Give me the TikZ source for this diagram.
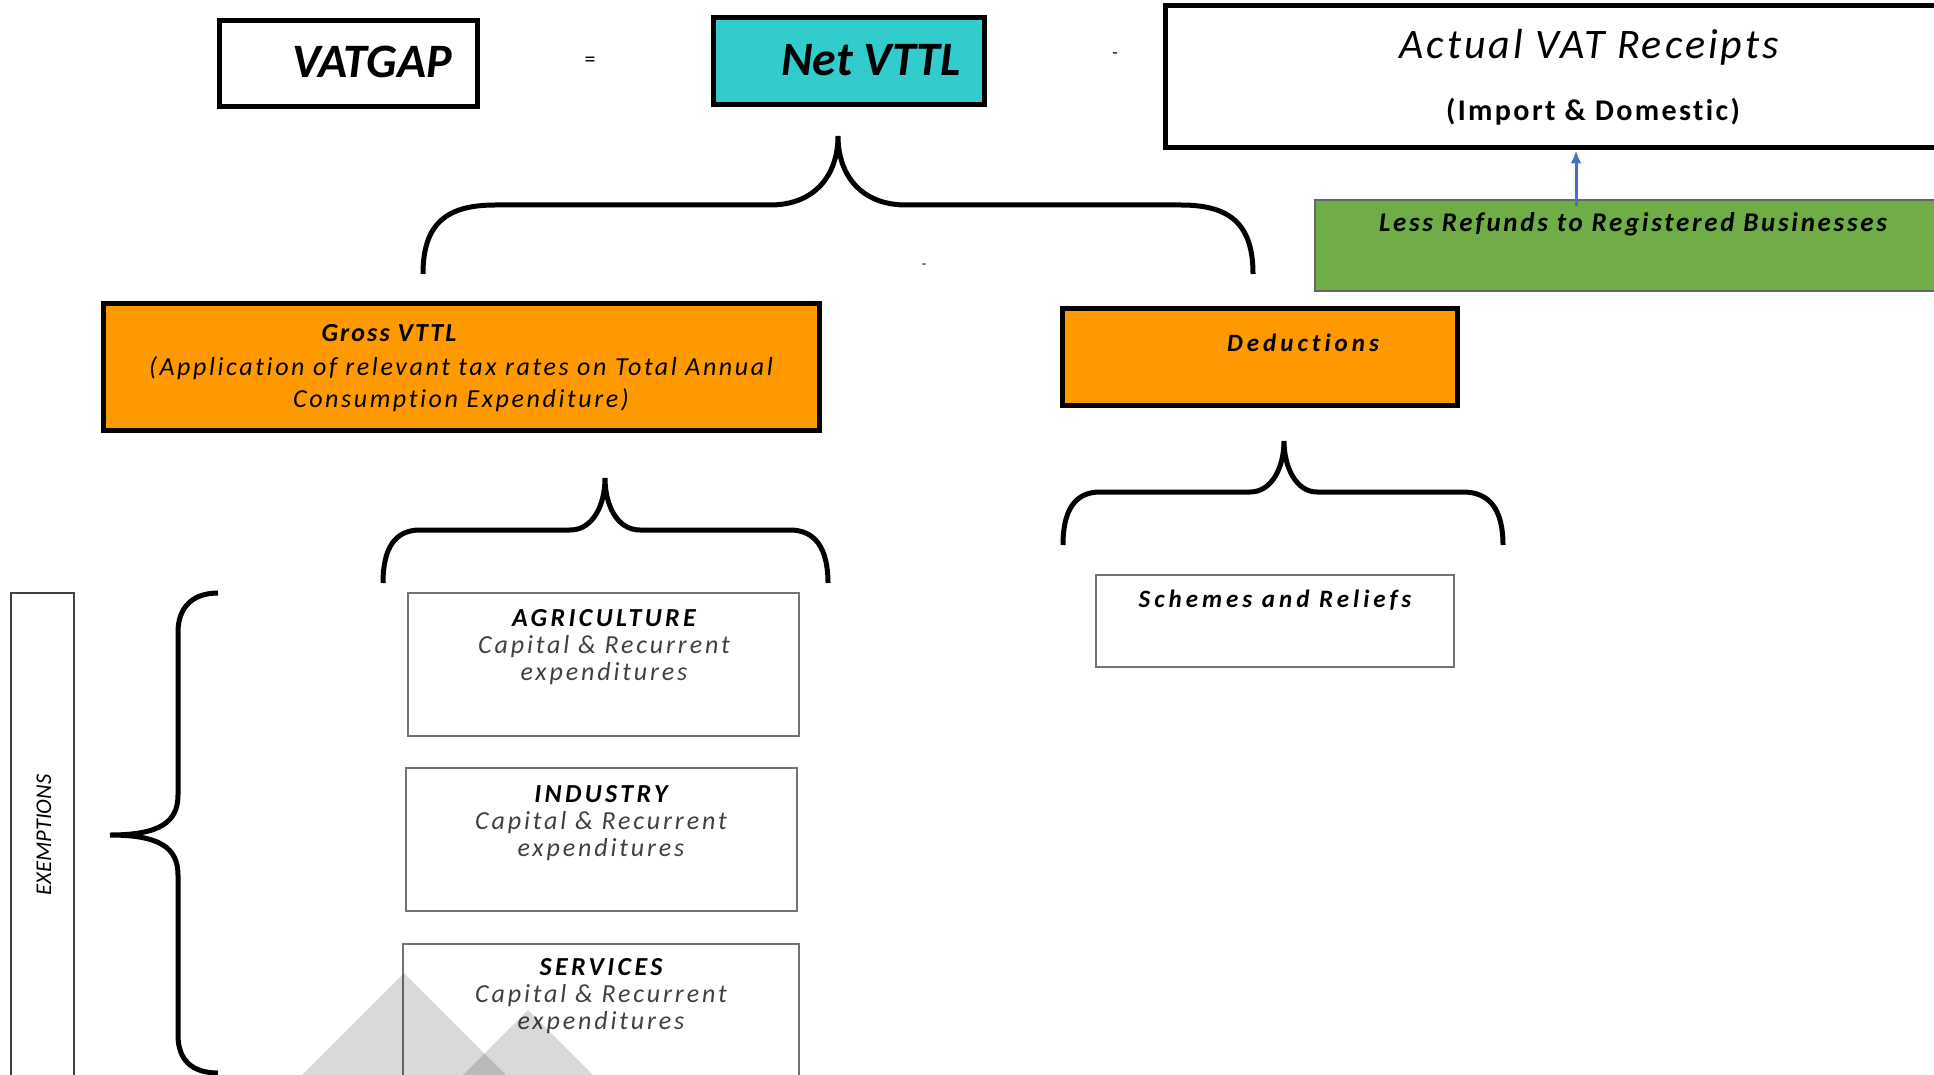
\documentclass[tikz,border=0pt]{standalone}
\usepackage{fontspec}
\setmainfont{Carlito}[Ligatures=NoCommon]
\usetikzlibrary{arrows.meta}

\definecolor{netcyan}{HTML}{33CCCC}
\definecolor{grossorange}{HTML}{FF9900}
\definecolor{refundgreen}{HTML}{70AD47}
\definecolor{arrowblue}{HTML}{4472C4}
\definecolor{subgrey}{HTML}{404040}

\newcommand{\trk}[1]{\addfontfeatures{LetterSpace=#1}}

\tikzset{
  heavybox/.style={draw=black, line width=5pt, inner sep=0pt},
  lightbox/.style={draw=black!55, line width=2pt, inner sep=0pt},
  brace/.style={line width=5pt},
  lbl/.style={inner sep=0pt, align=center}
}

\begin{document}
\begin{tikzpicture}[x=1pt,y=-1pt]
\useasboundingbox (0,0) rectangle (1934,1075);
\clip (0,0) rectangle (1934,1075);

% top row
\node[heavybox, minimum width=258, minimum height=86] (vatgap) at (348,64) {};
\node[heavybox, fill=netcyan, minimum width=271, minimum height=87] (netvttl) at (848.5,61.5) {};
\node[heavybox, minimum width=795, minimum height=142] (actual) at (1562.5,77) {};
\node[draw=black!60, line width=1.5pt, fill=refundgreen, minimum width=645, minimum height=91] (refunds) at (1637.5,245.5) {};

\node[lbl, font=\fontsize{48}{52}\selectfont\bfseries\itshape] (vatgaptxt) at (372,62) {VATGAP};
\node[lbl, font=\fontsize{22}{24}\selectfont] (eqsign) at (590,62) {=};
\node[lbl, font=\fontsize{48}{52}\selectfont\bfseries\itshape] (netvttltxt) at (871,60) {Net VTTL};
\node[lbl, font=\fontsize{18}{20}\selectfont] (minussign) at (1115,56) {-};
\node[lbl, font=\fontsize{42}{46}\selectfont\itshape\trk{7}] (actualtxt) at (1589,47) {Actual VAT Receipts};
\node[lbl, font=\fontsize{30}{34}\selectfont\bfseries\trk{8}] (importtxt) at (1593,112) {(Import \& Domestic)};
\node[lbl, font=\fontsize{27}{30}\selectfont\bfseries\itshape\trk{10}] (refundstxt) at (1633,224) {Less Refunds to Registered Businesses};

% refunds into receipts
\coordinate (arrowx) at (1576,0);
\draw[arrowblue, line width=3pt, -{Latex[length=13pt,width=11pt]}] ([yshift=-7pt]refunds.north -| arrowx) -- (actual.south -| arrowx);

% braces
\draw[brace] (423,274) .. controls (423,225) and (445,205) .. (495,205) -- (770,205)
  .. controls (815,205) and (838,175) .. (838,136) .. controls (838,175) and (861,205) .. (906,205)
  -- (1181,205) .. controls (1231,205) and (1253,225) .. (1253,274);
\node[lbl, font=\fontsize{14}{16}\selectfont] (smalldash) at (924,266) {-};

\draw[brace] (383,583) .. controls (383,548) and (395,530) .. (420,530) -- (570,530)
  .. controls (593,530) and (605,505) .. (605,478) .. controls (605,505) and (617,530) .. (640,530)
  -- (790,530) .. controls (815,530) and (828,548) .. (828,583);

\draw[brace] (1063,545) .. controls (1063,510) and (1075,492) .. (1100,492) -- (1250,492)
  .. controls (1272,492) and (1284,467) .. (1284,441) .. controls (1284,467) and (1296,492) .. (1317,492)
  -- (1463,492) .. controls (1490,492) and (1503,510) .. (1503,545);

\draw[brace] (218,593) .. controls (192,593) and (178,608) .. (178,632) -- (178,795)
  .. controls (178,822) and (160,835) .. (110,835) .. controls (160,835) and (178,848) .. (178,875)
  -- (178,1035) .. controls (178,1060) and (192,1073) .. (218,1073);

% middle row
\node[heavybox, fill=grossorange, minimum width=716, minimum height=127] (gross) at (461,366.5) {};
\node[heavybox, fill=grossorange, minimum width=395, minimum height=97] (deductions) at (1259.5,356.5) {};
\node[lbl, font=\fontsize{26}{30}\selectfont\bfseries\itshape\trk{8}] (grosstxt) at (389,333) {Gross VTTL};
\node[lbl, font=\fontsize{26}{30}\selectfont\itshape\trk{10}] (grossline1) at (461,368) {(Application of relevant tax rates on Total Annual};
\node[lbl, font=\fontsize{26}{30}\selectfont\itshape\trk{10}] (grossline2) at (461,400) {Consumption Expenditure)};
\node[lbl, font=\fontsize{25}{29}\selectfont\bfseries\itshape\trk{16}] (deductionstxt) at (1303,343) {Deductions};

% lower boxes
\node[lightbox, minimum width=358, minimum height=92] (schemes) at (1275,621) {};
\node[lbl, font=\fontsize{25}{29}\selectfont\bfseries\itshape\trk{16}] (schemestxt) at (1275,600) {Schemes and Reliefs};

\node[draw=subgrey, line width=2.5pt, minimum width=63, minimum height=507] (exemptions) at (42.5,846.5) {};
\node[lbl, rotate=90, font=\fontsize{22.5}{26}\selectfont\itshape] (exemptionstxt) at (44,835) {EXEMPTIONS};

\node[lightbox, minimum width=391, minimum height=143] (agri) at (603.5,664.5) {};
\node[lightbox, minimum width=391, minimum height=143] (industry) at (601.5,839.5) {};
\node[lightbox, minimum width=396, minimum height=160] (services) at (601,1024) {};

\node[lbl, font=\fontsize{26}{27}\selectfont\itshape\trk{11}] (agritxt) at (604,647)
  {{\bfseries\trk{13}AGRICULTURE}\\ \textcolor{subgrey}{Capital \& Recurrent}\\ \textcolor{subgrey}{expenditures}};
\node[lbl, font=\fontsize{26}{27}\selectfont\itshape\trk{11}] (industrytxt) at (601,823)
  {{\bfseries\trk{13}INDUSTRY}\\ \textcolor{subgrey}{Capital \& Recurrent}\\ \textcolor{subgrey}{expenditures}};
\node[lbl, font=\fontsize{26}{27}\selectfont\itshape\trk{11}] (servicestxt) at (601,996)
  {{\bfseries\trk{13}SERVICES}\\ \textcolor{subgrey}{Capital \& Recurrent}\\ \textcolor{subgrey}{expenditures}};

% grey triangles
\fill[black, opacity=0.15] (404,973) -- (254,1123) -- (554,1123) -- cycle;
\fill[black, opacity=0.15] (528,1010) -- (413,1125) -- (643,1125) -- cycle;

\end{tikzpicture}
\end{document}
